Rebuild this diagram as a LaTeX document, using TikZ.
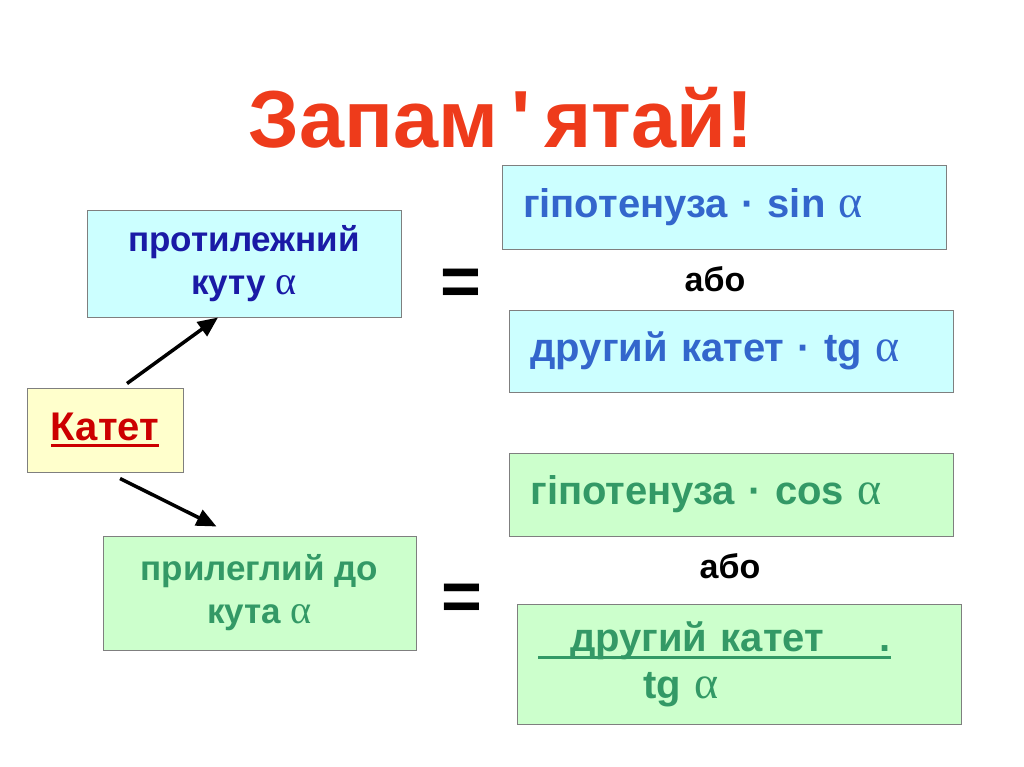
\documentclass[tikz,border=0pt]{standalone}
\usepackage{fontspec}
\setmainfont{Liberation Sans}
\newfontfamily\grkfont[Scale=1.15]{Liberation Serif}
\usetikzlibrary{positioning, arrows.meta}

\definecolor{titlered}{HTML}{EE3B1B}
\definecolor{katetred}{HTML}{CC0000}
\definecolor{darkblue}{HTML}{1A1AA6}
\definecolor{lightblue}{HTML}{3366CC}
\definecolor{darkgreen}{HTML}{339966}
\definecolor{bluefill}{HTML}{CCFFFF}
\definecolor{greenfill}{HTML}{CCFFCC}
\definecolor{yellowfill}{HTML}{FFFFCC}
\definecolor{boxline}{HTML}{7F7F7F}

\newcommand{\alf}{{\grkfont\mdseries α}}
\newlength{\ulwd}
% thick underline, drawn as a rule under the text
\newcommand{\thickul}[2]{\settowidth{\ulwd}{#2}\rlap{\rule[-#1]{\ulwd}{3pt}}#2}

\tikzset{
    basebox/.style={draw=boxline, line width=1pt, inner ysep=0pt, font=\bfseries},
    leftbox/.style={basebox, align=center, inner xsep=0pt,
        font=\bfseries\fontsize{35}{43}\selectfont},
    rightbox/.style={basebox, align=left, inner xsep=21pt, text width=402pt,
        font=\bfseries\fontsize{40}{47}\selectfont},
    arr/.style={-{Triangle[length=20pt,width=17pt]}, line width=3.5pt, black},
    eqsign/.style={font=\bfseries\fontsize{70}{70}\selectfont},
    ortext/.style={font=\bfseries\fontsize{34}{40}\selectfont}
}

\begin{document}
\begin{tikzpicture}[x=1pt, y=-1pt]
    \useasboundingbox[fill=white] (0,0) rectangle (1024,767);

    % title
    \node[text=titlered, font=\bfseries\fontsize{81}{90}\selectfont] (title) at (501,118) {Запам\,\textquotesingle\,ятай!};

    % left column
    \node[leftbox, fill=bluefill, text=darkblue, minimum width=314pt, minimum height=106pt] (protyl) at (244,264) {протилежний\\куту \alf};
    \node[leftbox, fill=yellowfill, text=katetred, minimum width=156pt, minimum height=84pt,
        font=\bfseries\fontsize{40}{46}\selectfont] (katet) at (105,430) {\thickul{6pt}{Катет}};
    \node[leftbox, fill=greenfill, text=darkgreen, minimum width=313pt, minimum height=114pt] (prylegl) at (259.5,593) {прилеглий до\\кута \alf};

    \draw[arr] ([xshift=22pt, yshift=4pt]katet.north) -- ([xshift=-26pt]protyl.south);
    \draw[arr] ([xshift=15pt, yshift=-6pt]katet.south) -- ([xshift=-43pt, yshift=9pt]prylegl.north);

    % equals signs
    \node[eqsign] (eqtop) at (461,287) {=};
    \node[eqsign] (eqbot) at (462,602) {=};

    % right column, opposite leg
    \node[rightbox, fill=bluefill, text=lightblue, minimum height=83pt] (hypsin) at (724,207.5) {гіпотенуза · sin \alf};
    \node[ortext] (or1) at (715,279) {або};
    \node[rightbox, fill=bluefill, text=lightblue, minimum height=82pt] (legtg) at (731.5,351) {другий катет · tg \alf};

    % right column, adjacent leg
    \node[rightbox, fill=greenfill, text=darkgreen, minimum height=83pt] (hypcos) at (731.5,494.5) {гіпотенуза · cos \alf};
    \node[ortext] (or2) at (730,566) {або};
    \node[rightbox, fill=greenfill, text=darkgreen, minimum height=120pt] (legfrac) at (739,664)
        {\thickul{8pt}{\hspace{32pt}другий катет\hspace{56pt}.}\\\hspace*{105pt}tg \alf};
\end{tikzpicture}
\end{document}
